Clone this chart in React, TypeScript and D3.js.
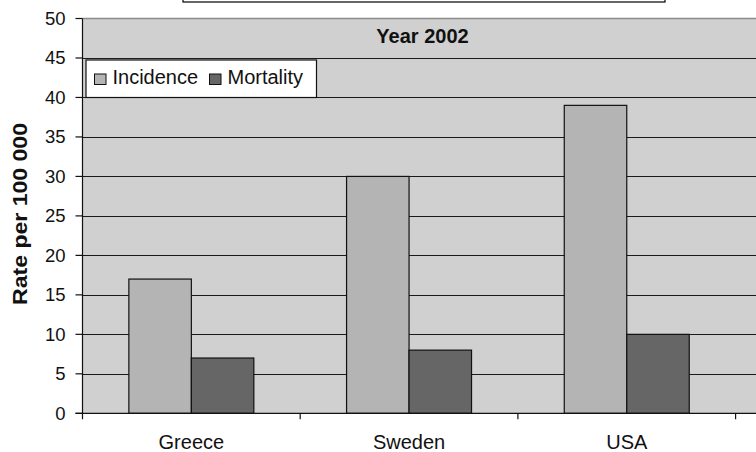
import React from "react";
import * as d3 from "d3";

const categories = ["Greece", "Sweden", "USA"];
const seriesNames = ["Incidence", "Mortality"];
const incidence = [17, 30, 39];
const mortality = [7, 8, 10];
const yTicks = [0, 5, 10, 15, 20, 25, 30, 35, 40, 45, 50];
const chartTitle = "Year 2002";
const yAxisTitle = "Rate per 100 000";

const colors = ["#b4b4b4", "#666666"];
const W = 756, H = 452;
const plotLeft = 82.5, plotTop = 18.5, plotBottom = 413.3;
const catStep = 217.7;
const plotRight = 760;

export default function App() {
  const y = d3.scaleLinear().domain([0, 50]).range([plotBottom, plotTop]);
  const x = d3.scaleBand().domain(categories).range([plotLeft, plotLeft + catStep * 3]).paddingInner(0).paddingOuter(0);
  const xs = d3.scaleBand().domain(seriesNames).range([0, x.bandwidth()]).paddingInner(0).paddingOuter(0.742);
  const values = [incidence, mortality];
  const font = "Arial, 'Liberation Sans', sans-serif";
  return (
    <svg width={W} height={H} style={{ position: "absolute", left: 0, top: 0, fontFamily: font }}>
      <rect x={0} y={0} width={W} height={H} fill="#fff" />
      <rect x={183} y={-10} width={482} height={12} fill="#fff" stroke="#000" strokeWidth={1.2} />
      <rect x={plotLeft} y={plotTop} width={plotRight - plotLeft} height={plotBottom - plotTop} fill="#cfd0cf" />
      <line x1={plotLeft} x2={plotRight} y1={plotTop} y2={plotTop} stroke="#8a8a8a" strokeWidth={1.5} />
      {yTicks.filter(t => t > 0 && t < 50).map(t => (
        <line key={t} x1={plotLeft} x2={plotRight} y1={Math.round(y(t)) + 0.5} y2={Math.round(y(t)) + 0.5} stroke="#1a1a1a" strokeWidth={1} />
      ))}
      {categories.map((c, i) => seriesNames.map((s, j) => (
        <rect key={c + s} x={(x(c) as number) + (xs(s) as number)} width={xs.bandwidth()}
          y={y(values[j][i])} height={y(0) - y(values[j][i])}
          fill={colors[j]} stroke="#111" strokeWidth={1.2} />
      )))}
      <line x1={plotLeft} x2={plotLeft} y1={plotTop} y2={plotBottom} stroke="#111" strokeWidth={1.2} />
      <line x1={plotLeft - 7} x2={plotRight} y1={plotBottom} y2={plotBottom} stroke="#111" strokeWidth={1.2} />
      {yTicks.map(t => (
        <g key={t}>
          <line x1={plotLeft - 7} x2={plotLeft} y1={y(t)} y2={y(t)} stroke="#111" strokeWidth={1.2} />
          <text x={65.5} y={y(t) + 6.5} textAnchor="end" fontSize={18.5} fill="#111">{t}</text>
        </g>
      ))}
      {[0, 1, 2, 3].map(i => (
        <line key={i} x1={plotLeft + catStep * i} x2={plotLeft + catStep * i} y1={plotBottom} y2={plotBottom + 6} stroke="#111" strokeWidth={1.2} />
      ))}
      {categories.map(c => (
        <text key={c} x={(x(c) as number) + x.bandwidth() / 2} y={449.3} textAnchor="middle" fontSize={20} fill="#111">{c}</text>
      ))}
      <text x={422.5} y={42.5} textAnchor="middle" fontSize={20} fontWeight="bold" fill="#111">{chartTitle}</text>
      <text transform={`translate(27.3,214) rotate(-90)`} textAnchor="middle" fontSize={19.5} fontWeight="bold" fill="#111"
        textLength={182} lengthAdjust="spacingAndGlyphs">{yAxisTitle}</text>
      <rect x={86} y={60} width={230.5} height={37.5} fill="#fff" stroke="#111" strokeWidth={1.2} />
      {seriesNames.map((s, j) => {
        const sx = j === 0 ? 94.5 : 209.5;
        return (
          <g key={s}>
            <rect x={sx} y={74} width={11.5} height={10.5} fill={colors[j]} stroke="#111" strokeWidth={1} />
            <text x={sx + 18} y={83.5} fontSize={20} fill="#111">{s}</text>
          </g>
        );
      })}
    </svg>
  );
}
